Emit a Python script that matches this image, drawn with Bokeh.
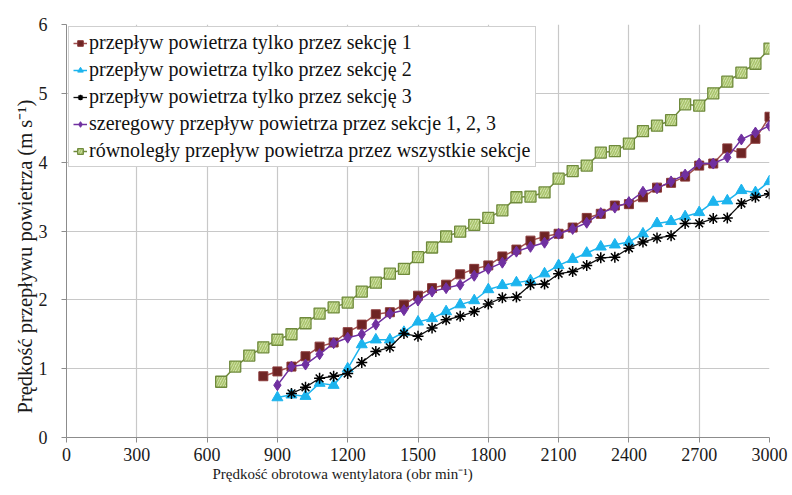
from bokeh.plotting import figure
from bokeh.models import Range1d, FixedTicker, Legend, LegendItem, Title
from bokeh.embed import file_html
from bokeh.resources import INLINE

# ---- data ----
rpm_s1 = [840, 900, 960, 1020, 1080, 1140, 1200, 1260, 1320, 1380, 1440, 1500, 1560, 1620, 1680,
          1740, 1800, 1860, 1920, 1980, 2040, 2100, 2160, 2220, 2280, 2340, 2400, 2460, 2520,
          2580, 2640, 2700, 2760, 2820, 2880, 2940, 3000]
v_s1 = [0.89, 0.96, 1.03, 1.18, 1.32, 1.38, 1.53, 1.64, 1.79, 1.82, 1.93, 2.06, 2.17, 2.22, 2.37,
        2.45, 2.50, 2.63, 2.73, 2.86, 2.92, 2.96, 3.05, 3.19, 3.25, 3.37, 3.39, 3.49, 3.63,
        3.70, 3.79, 3.95, 3.98, 4.20, 4.13, 4.34, 4.66]

rpm_s2 = [900, 960, 1020, 1080, 1140, 1200, 1260, 1320, 1380, 1440, 1500, 1560, 1620, 1680,
          1740, 1800, 1860, 1920, 1980, 2040, 2100, 2160, 2220, 2280, 2340, 2400, 2460, 2520,
          2580, 2640, 2700, 2760, 2820, 2880, 2940, 3000]
v_s2 = [0.58, 0.62, 0.60, 0.79, 0.76, 1.00, 1.35, 1.42, 1.42, 1.53, 1.68, 1.73, 1.83, 1.93,
        1.99, 2.15, 2.21, 2.25, 2.28, 2.38, 2.50, 2.59, 2.68, 2.77, 2.80, 2.84, 2.96, 3.11,
        3.14, 3.21, 3.27, 3.42, 3.44, 3.59, 3.56, 3.72]

rpm_s3 = [960, 1020, 1080, 1140, 1200, 1260, 1320, 1380, 1440, 1500, 1560, 1620, 1680,
          1740, 1800, 1860, 1920, 1980, 2040, 2100, 2160, 2220, 2280, 2340, 2400, 2460, 2520,
          2580, 2640, 2700, 2760, 2820, 2880, 2940, 3000]
v_s3 = [0.64, 0.73, 0.86, 0.89, 0.93, 1.09, 1.25, 1.31, 1.51, 1.47, 1.59, 1.71, 1.76,
        1.83, 1.94, 2.03, 2.04, 2.22, 2.23, 2.38, 2.41, 2.50, 2.61, 2.62, 2.75, 2.84, 2.90,
        2.93, 3.11, 3.11, 3.18, 3.19, 3.40, 3.49, 3.54]

rpm_ser = [900, 960, 1020, 1080, 1140, 1200, 1260, 1320, 1380, 1440, 1500, 1560, 1620, 1680,
           1740, 1800, 1860, 1920, 1980, 2040, 2100, 2160, 2220, 2280, 2340, 2400, 2460, 2520,
           2580, 2640, 2700, 2760, 2820, 2880, 2940, 3000]
v_ser = [0.76, 1.03, 1.06, 1.21, 1.37, 1.45, 1.50, 1.64, 1.80, 1.85, 1.99, 2.12, 2.17, 2.22,
         2.35, 2.45, 2.54, 2.70, 2.77, 2.83, 2.96, 3.03, 3.12, 3.26, 3.34, 3.42, 3.57, 3.62,
         3.72, 3.82, 3.98, 3.98, 4.07, 4.33, 4.43, 4.53]

rpm_par = [660, 720, 780, 840, 900, 960, 1020, 1080, 1140, 1200, 1260, 1320, 1380, 1440, 1500,
           1560, 1620, 1680, 1740, 1800, 1860, 1920, 1980, 2040, 2100, 2160, 2220, 2280, 2340,
           2400, 2460, 2520, 2580, 2640, 2700, 2760, 2820, 2880, 2940, 3000]
v_par = [0.81, 1.03, 1.19, 1.31, 1.42, 1.50, 1.66, 1.80, 1.89, 1.96, 2.12, 2.25, 2.38, 2.45, 2.62,
         2.76, 2.92, 2.99, 3.09, 3.19, 3.30, 3.49, 3.50, 3.56, 3.76, 3.87, 3.95, 4.14, 4.16,
         4.27, 4.45, 4.53, 4.61, 4.84, 4.82, 5.00, 5.17, 5.30, 5.43, 5.65]

labels = [
    "przepływ powietrza tylko przez sekcję 1",
    "przepływ powietrza tylko przez sekcję 2",
    "przepływ powietrza tylko przez sekcję 3",
    "szeregowy przepływ powietrza przez sekcje 1, 2, 3",
    "równoległy przepływ powietrza przez wszystkie sekcje",
]
x_title = "Prędkość obrotowa wentylatora (obr min⁻¹)"
y_title = "Prędkość przepływu powietrza (m s⁻¹)"
x_ticks = [0, 300, 600, 900, 1200, 1500, 1800, 2100, 2400, 2700, 3000]
y_ticks = [0, 1, 2, 3, 4, 5, 6]

FONT = "'Liberation Serif', 'Times New Roman', serif"

p = figure(width=790, height=493, output_backend="svg", toolbar_location=None,
           x_range=Range1d(0, 3000), y_range=Range1d(0, 6),
           min_border_left=66, min_border_right=21, min_border_top=24, min_border_bottom=56,
           background_fill_color="white", border_fill_color="white")
p.outline_line_color = None

p.xaxis.ticker = FixedTicker(ticks=x_ticks)
p.yaxis.ticker = FixedTicker(ticks=y_ticks)
p.xgrid.grid_line_color = "#c8c8c8"
p.ygrid.grid_line_color = "#c8c8c8"
p.xgrid.grid_line_width = 1.2
p.ygrid.grid_line_width = 1.2

for ax in (p.xaxis[0], p.yaxis[0]):
    ax.axis_line_color = "#8c8c8c"
    ax.major_tick_line_color = "#8c8c8c"
    ax.major_tick_out = 5
    ax.major_tick_in = 0
    ax.minor_tick_line_color = None
    ax.major_label_text_font = FONT
    ax.major_label_text_font_size = "18px"
    ax.major_label_text_color = "#1a1a1a"

p.xaxis.major_label_standoff = 5
p.yaxis.major_label_standoff = 14

# axis titles placed like in the reference (not centred on the frame)
xt = Title(text=x_title, align="left", offset=146, standoff=0,
           text_font=FONT, text_font_size="15px", text_font_style="normal", text_color="#1a1a1a")
p.add_layout(xt, "below")
yt = Title(text=y_title, align="left", offset=24, standoff=0,
           text_font=FONT, text_font_size="20.5px", text_font_style="normal", text_color="#1a1a1a")
p.add_layout(yt, "left")

# series 1
l1 = p.line(rpm_s1, v_s1, line_color="#a0504f", line_width=1.5)
m1 = p.scatter(rpm_s1, v_s1, marker="square", size=9, fill_color="#6e2424", line_color="#8a3a3a")
# series 2
l2 = p.line(rpm_s2, v_s2, line_color="#1cb4ee", line_width=1.5)
m2 = p.scatter(rpm_s2, v_s2, marker="triangle", size=11, fill_color="#1cb4ee", line_color="#1cb4ee")
# series 3
l3 = p.line(rpm_s3, v_s3, line_color="#111111", line_width=1.3)
m3 = p.scatter(rpm_s3, v_s3, marker="asterisk", size=11, line_color="#000000", line_width=1.5)
# series 4
l4 = p.line(rpm_ser, v_ser, line_color="#7030a0", line_width=1.5)
m4 = p.scatter(rpm_ser, v_ser, marker="diamond", size=11, fill_color="#7030a0", line_color="#7030a0")
# series 5
l5 = p.line(rpm_par, v_par, line_color="#6f8a3c", line_width=1.5)
m5 = p.scatter(rpm_par, v_par, marker="square", size=11, fill_color="#d4e3ad", line_color="#6f8a3c",
               line_width=1.3, hatch_pattern="/", hatch_color="#a9c46c", hatch_scale=5, hatch_weight=1.5)

legend = Legend(items=[
    LegendItem(label=labels[0], renderers=[l1, m1]),
    LegendItem(label=labels[1], renderers=[l2, m2]),
    LegendItem(label=labels[2], renderers=[l3, m3]),
    LegendItem(label=labels[3], renderers=[l4, m4]),
    LegendItem(label=labels[4], renderers=[l5, m5]),
], location="top_left")
legend.margin = 2
legend.padding = 4
legend.spacing = 4
legend.glyph_width = 14
legend.glyph_height = 20
legend.label_height = 20
legend.label_standoff = 2
legend.label_text_font = FONT
legend.label_text_font_size = "20px"
legend.label_text_color = "#111111"
legend.border_line_color = "#a0a0a0"
legend.background_fill_color = "white"
legend.background_fill_alpha = 1.0
p.add_layout(legend)

open("out.html", "w").write(file_html(p, INLINE))
